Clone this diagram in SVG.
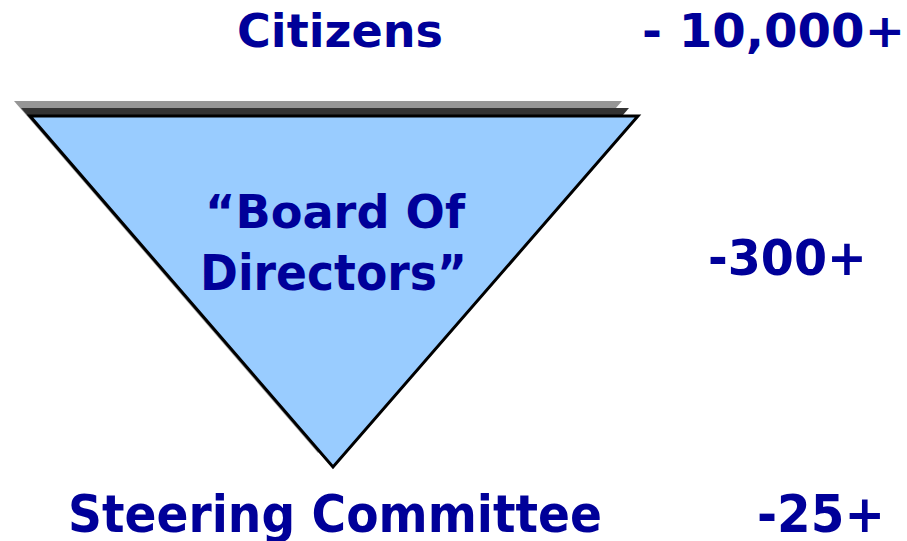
<svg xmlns="http://www.w3.org/2000/svg" width="907" height="541" viewBox="0 0 907 541">
<style>
.t{font-family:"DejaVu Sans","Liberation Sans",sans-serif;font-weight:bold;fill:#000099}
</style>
<rect width="907" height="541" fill="#fff"/>
<g id="pyramid">
<polygon points="14,101 622,101 318,453" fill="#969696"/>
<polygon points="21,108 629,108 326,460" fill="#333333"/>
<polygon points="30,116 638,116 333,467" fill="#99CCFF" stroke="#000" stroke-width="3" stroke-linejoin="miter"/>
</g>
<g id="labels">
<text class="t" x="237" y="47" font-size="47" textLength="206" lengthAdjust="spacingAndGlyphs">Citizens</text>
<text class="t" x="642" y="47" font-size="47" textLength="263" lengthAdjust="spacingAndGlyphs">- 10,000+</text>
<text class="t" x="205" y="228" font-size="46" textLength="260" lengthAdjust="spacingAndGlyphs">“Board Of</text>
<text class="t" x="200" y="290" font-size="49" textLength="267" lengthAdjust="spacingAndGlyphs">Directors”</text>
<text class="t" x="708" y="275" font-size="50" textLength="159" lengthAdjust="spacingAndGlyphs">-300+</text>
<text class="t" x="68" y="532" font-size="52" textLength="534" lengthAdjust="spacingAndGlyphs">Steering Committee</text>
<text class="t" x="757" y="532" font-size="52" textLength="128" lengthAdjust="spacingAndGlyphs">-25+</text>
</g>
</svg>
